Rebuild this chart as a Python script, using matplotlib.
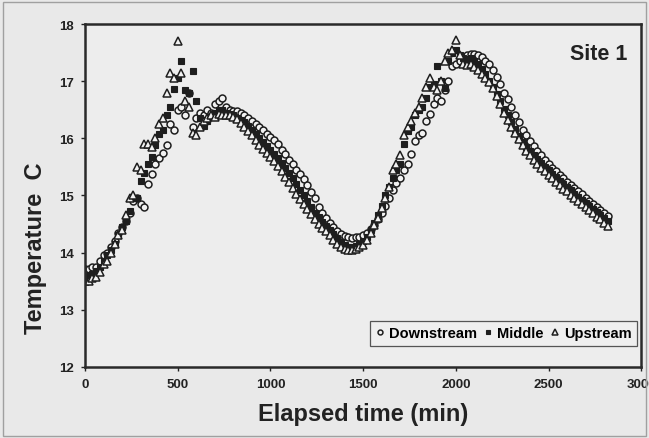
import numpy as np
import matplotlib
matplotlib.use("Agg")
import matplotlib.pyplot as plt
from matplotlib.patches import Rectangle

plt.rcParams['font.family'] = ['Liberation Sans', 'DejaVu Sans']
plt.rcParams['font.weight'] = 'bold'

# elapsed time, min (one reading every 20 min)
time_min = list(range(0, 2821, 20))

downstream = [
    13.72, 13.72, 13.74, 13.75, 13.85, 13.95, 14.0, 14.1, 14.2, 14.35,
    14.45, 14.55, 14.7, 14.9, 14.95, 14.85, 14.8, 15.2, 15.38, 15.55,
    15.65, 15.75, 15.88, 16.25, 16.15, 16.5, 16.55, 16.4, 16.8, 16.2,
    16.35, 16.45, 16.4, 16.5, 16.45, 16.6, 16.65, 16.7, 16.55, 16.5,
    16.48, 16.48, 16.45, 16.4, 16.35, 16.3, 16.25, 16.2, 16.15, 16.08,
    16.02, 15.97, 15.9, 15.8, 15.72, 15.62, 15.55, 15.45, 15.38, 15.28,
    15.18, 15.06, 14.95, 14.8, 14.7, 14.6, 14.52, 14.44, 14.37, 14.32,
    14.29, 14.27, 14.26, 14.27, 14.28, 14.3, 14.35, 14.41, 14.48, 14.58,
    14.7, 14.82, 14.95, 15.1, 15.22, 15.3, 15.45, 15.55, 15.72, 15.95,
    16.05, 16.1, 16.3, 16.43, 16.6, 16.7, 16.65, 16.85, 17.0, 17.27,
    17.3, 17.35, 17.42, 17.45, 17.48, 17.48, 17.45, 17.42, 17.35, 17.3,
    17.2, 17.08, 16.95, 16.8, 16.68, 16.55, 16.4, 16.28, 16.15, 16.05,
    15.95, 15.87, 15.78, 15.7, 15.62, 15.55, 15.48, 15.42, 15.36, 15.3,
    15.24, 15.18, 15.13, 15.08, 15.02, 14.96, 14.9, 14.85, 14.79, 14.74,
    14.69, 14.64,
]

middle = [
    13.55, 13.6, 13.62, 13.68, 13.75, 13.85, 13.95, 14.05, 14.15, 14.3,
    14.45, 14.55, 14.72, 14.95, 14.95, 15.25, 15.4, 15.55, 15.68, 15.88,
    16.08, 16.15, 16.4, 16.55, 16.86, 17.05, 17.36, 16.85, 16.8, 17.18,
    16.66, 16.35, 16.22, 16.3, 16.38, 16.45, 16.5, 16.5, 16.45, 16.42,
    16.4, 16.36, 16.32, 16.28, 16.22, 16.15, 16.08, 16.0, 15.93, 15.86,
    15.8, 15.73, 15.66, 15.57, 15.48, 15.4, 15.3, 15.2, 15.1, 15.0,
    14.9, 14.8, 14.7, 14.62, 14.54, 14.47, 14.4, 14.32, 14.25, 14.18,
    14.13, 14.1, 14.1, 14.12, 14.15, 14.2, 14.28, 14.4, 14.52, 14.65,
    14.82, 15.0, 15.15, 15.3, 15.45, 15.55, 15.9, 16.13, 16.2, 16.4,
    16.5, 16.55, 16.7, 16.9, 16.95, 17.27, 17.0, 16.88, 17.35, 17.5,
    17.55, 17.45, 17.4, 17.38, 17.4, 17.35, 17.3, 17.22, 17.12, 17.0,
    16.9, 16.78, 16.65, 16.52, 16.4, 16.28, 16.16, 16.04, 15.94, 15.85,
    15.77, 15.7, 15.63, 15.56, 15.5, 15.44, 15.38, 15.32, 15.26, 15.2,
    15.14, 15.09, 15.03, 14.98, 14.92, 14.87, 14.82, 14.76, 14.71, 14.66,
    14.6, 14.55,
]

upstream = [
    13.5, 13.5, 13.55, 13.58, 13.66, 13.8, 13.85, 14.0, 14.15, 14.3,
    14.4, 14.65, 14.95, 15.0, 15.5, 15.45, 15.9, 15.9, 15.85, 16.0,
    16.25, 16.35, 16.8, 17.15, 17.05, 17.7, 17.15, 16.65, 16.55, 16.1,
    16.05, 16.2, 16.3, 16.35, 16.4, 16.38, 16.42, 16.4, 16.4, 16.4,
    16.38, 16.33, 16.27, 16.2, 16.12, 16.05, 15.97, 15.88, 15.82, 15.75,
    15.68, 15.6, 15.52, 15.43, 15.33, 15.23, 15.13, 15.03, 14.93, 14.85,
    14.76, 14.67, 14.58, 14.5, 14.43, 14.37, 14.3, 14.22, 14.15, 14.1,
    14.07, 14.05, 14.05, 14.07, 14.1, 14.14, 14.22, 14.35, 14.48, 14.6,
    14.78, 14.95, 15.15, 15.45, 15.55, 15.7, 16.05, 16.2, 16.3, 16.45,
    16.55, 16.7, 16.9, 17.05, 16.9, 16.85, 17.0, 17.35, 17.5, 17.55,
    17.72, 17.45, 17.3, 17.28, 17.3, 17.25, 17.2, 17.12, 17.05, 16.98,
    16.88, 16.74, 16.6, 16.45, 16.32, 16.2, 16.1, 15.98, 15.88, 15.78,
    15.7, 15.62, 15.55, 15.48, 15.42, 15.36, 15.3, 15.24, 15.18, 15.12,
    15.07, 15.01, 14.96, 14.9, 14.85, 14.8, 14.74, 14.69, 14.63, 14.58,
    14.52, 14.47,
]

bg = '#e9e9e9'
fig = plt.figure(figsize=(6.49, 4.39), dpi=100, facecolor=bg)
ax = fig.add_axes([0.131, 0.162, 0.857, 0.781], facecolor='#ededed')

ms = 5.0
ax.plot(time_min, downstream, 'o', ms=ms, mfc='#f2f2f2', mec='#1e1e1e', mew=1.1,
        label='Downstream')
ax.plot(time_min, middle, 's', ms=ms - 0.5, mfc='#1e1e1e', mec='#1e1e1e', mew=0.8,
        label='Middle')
ax.plot(time_min, upstream, '^', ms=ms + 0.4, mfc='#f2f2f2', mec='#1e1e1e', mew=1.1,
        label='Upstream')

ax.set_xlim(0, 3000)
ax.set_ylim(12, 18)
ax.set_xticks(np.arange(0, 3001, 500))
ax.set_yticks(np.arange(12, 19, 1))
ax.tick_params(direction='out', length=3, width=1, colors='#222222',
               labelsize=9.5, pad=5)
for s in ax.spines.values():
    s.set_linewidth(1.8)
    s.set_color('#2a2a2a')

ax.set_xlabel('Elapsed time (min)', fontsize=17, fontweight='bold', labelpad=9,
              color='#222222')
ax.set_ylabel('Temperature  C', fontsize=17, fontweight='bold', color='#222222')
# the scanned label sits below the middle of the axis
ax.yaxis.set_label_coords(-0.068, 0.35)

ax.text(0.975, 0.915, 'Site 1', transform=ax.transAxes, ha='right', va='center',
        fontsize=15.5, fontweight='bold', color='#222222')

leg = ax.legend(loc='lower right', bbox_to_anchor=(0.993, 0.06), ncol=3,
                fontsize=10.5, markerscale=0.7, handlelength=0.6,
                handletextpad=0.3, columnspacing=0.5, borderpad=0.4,
                borderaxespad=0, fancybox=False, framealpha=1,
                facecolor='#efefef', edgecolor='#555555')
leg.get_frame().set_linewidth(0.9)

fig.patches.append(Rectangle((0.004, 0.004), 0.992, 0.989, transform=fig.transFigure,
                             fill=False, edgecolor='#a0a0a0', linewidth=1))

fig.savefig('out.png', dpi=100, facecolor=bg)
